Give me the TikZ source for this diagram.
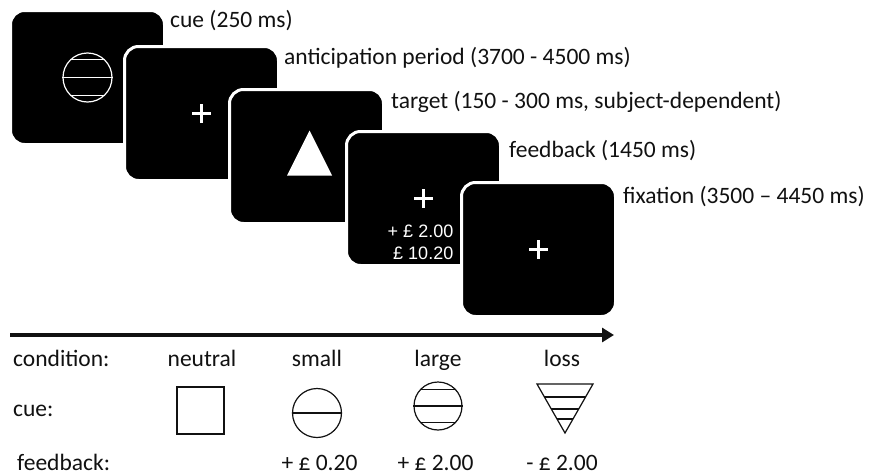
\documentclass[tikz,border=0pt]{standalone}
\usepackage{fontspec}
\setmainfont{Carlito}
\newfontfamily\screenfont{Liberation Sans}
\usetikzlibrary{arrows.meta, positioning, calc}
\definecolor{ink}{HTML}{111111}
\tikzset{
  screen/.style  = {draw=white, line width=3pt, fill=black,
                    rounded corners=14pt, minimum width=154pt,
                    minimum height=134pt, inner sep=0pt, outer sep=0pt,
                    anchor=north west},
  phase/.style   = {font=\fontsize{23.5}{28}\selectfont, text=ink,
                    inner sep=0pt, anchor=base west},
  rowtxt/.style  = {font=\fontsize{23.5}{28}\selectfont, text=ink,
                    inner sep=0pt, anchor=base},
  cash/.style    = {font=\screenfont\fontsize{18}{22}\selectfont, text=white,
                    inner sep=0pt, align=right},
  cuesym/.style  = {draw=ink, line width=1.2pt, inner sep=0pt},
  wsym/.style    = {white, line width=1.2pt},
  cross/.style   = {white, line width=2.2pt},
  timearr/.style = {-{Triangle[length=12pt, width=14pt]}, line width=4pt, ink},
}
\newcommand\fixcross[1]{%
  \draw[cross] ($(#1)+(-9.5,0)$) -- ($(#1)+(9.5,0)$)
               ($(#1)+(0,-9.5)$) -- ($(#1)+(0,9.5)$);}

\begin{document}
\begin{tikzpicture}[x=1pt, y=-1pt]
  \useasboundingbox[fill=white] (0,0) rectangle (871,474);

  % trial screens
  \node[screen] (s1) at (10.5,10.5) {};
  \node[screen] (s2) at (124.5,46.5) {};
  \node[screen] (s3) at (229.5,89.5) {};
  \node[screen] (s4) at (346.5,131.5) {};
  \node[screen] (s5) at (461.5,182.5) {};

  % screen contents
  \node[circle, draw=white, line width=1.2pt, minimum size=49pt,
        inner sep=0pt] (cuering) at (s1.center) {};
  \draw[wsym] (cuering.west) -- (cuering.east)
              (cuering.45) -- (cuering.135)
              (cuering.-45) -- (cuering.-135);
  \fixcross{s2.center}
  \coordinate (tgt) at ($(s3.center)+(3,-26)$);
  \fill[white] (tgt) -- ++(22.5,45) -- ++(-45,0) -- cycle;
  \fixcross{s4.center}
  \node[cash, anchor=north east] (fbcash) at ($(s4.center)+(30,26)$)
    {+ £ 2.00\\£ 10.20};
  \fixcross{s5.center}

  % phase labels
  \node[phase] (lcue) at ($(s1.north east)+(5.5,16.5)$) {cue (250 ms)};
  \node[phase] (lant) at ($(s2.north east)+(5.5,17.5)$)
    {anticipation period (3700 - 4500 ms)};
  \node[phase] (ltgt) at ($(s3.north east)+(7.5,18.5)$)
    {target (150 - 300 ms, subject-dependent)};
  \node[phase] (lfb) at ($(s4.north east)+(8.5,25.5)$) {feedback (1450 ms)};
  \node[phase] (lfix) at ($(s5.north east)+(7.5,20.5)$)
    {fixation (3500 – 4450 ms)};

  % time axis
  \coordinate (tstart) at (10,335);
  \coordinate (tend) at (614,335);
  \draw[timearr] (tstart) -- (tend);

  % condition table
  \node[rowtxt, anchor=base west] (rcond) at (13,366) {condition:};
  \node[rowtxt, anchor=base west] (rcue) at (13,416) {cue:};
  \node[rowtxt, anchor=base west] (rfb) at (17,470) {feedback:};

  \node[rowtxt] (cneutral) at (202,366) {neutral};
  \node[rowtxt] (csmall) at (317,366) {small};
  \node[rowtxt] (clarge) at (438,366) {large};
  \node[rowtxt] (closs) at (562,366) {loss};

  \node[cuesym, minimum size=47pt] (qneutral) at (200.5,410.5) {};
  \node[cuesym, circle, minimum size=49pt] (qsmall) at (317,413) {};
  \draw[cuesym] (qsmall.west) -- (qsmall.east);
  \node[cuesym, circle, minimum size=48pt] (qlarge) at (438,406) {};
  \draw[cuesym] (qlarge.west) -- (qlarge.east)
                (qlarge.42) -- (qlarge.138)
                (qlarge.-42) -- (qlarge.-138);
  \coordinate (qloss) at (565,384);
  \draw[cuesym, line join=miter] (qloss) ++(-28,0) -- ++(56,0) -- ++(-28,49) -- cycle;
  \draw[cuesym] ($(qloss)+(-20.6,13)$) -- ++(41.2,0)
                ($(qloss)+(-13.7,25)$) -- ++(27.4,0)
                ($(qloss)+(-8,35)$) -- ++(16,0);

  \node[rowtxt] (fsmall) at (319.5,470) {+ £ 0.20};
  \node[rowtxt] (flarge) at (435.5,470) {+ £ 2.00};
  \node[rowtxt] (floss) at (562,470) {- £ 2.00};

\end{tikzpicture}
\end{document}
